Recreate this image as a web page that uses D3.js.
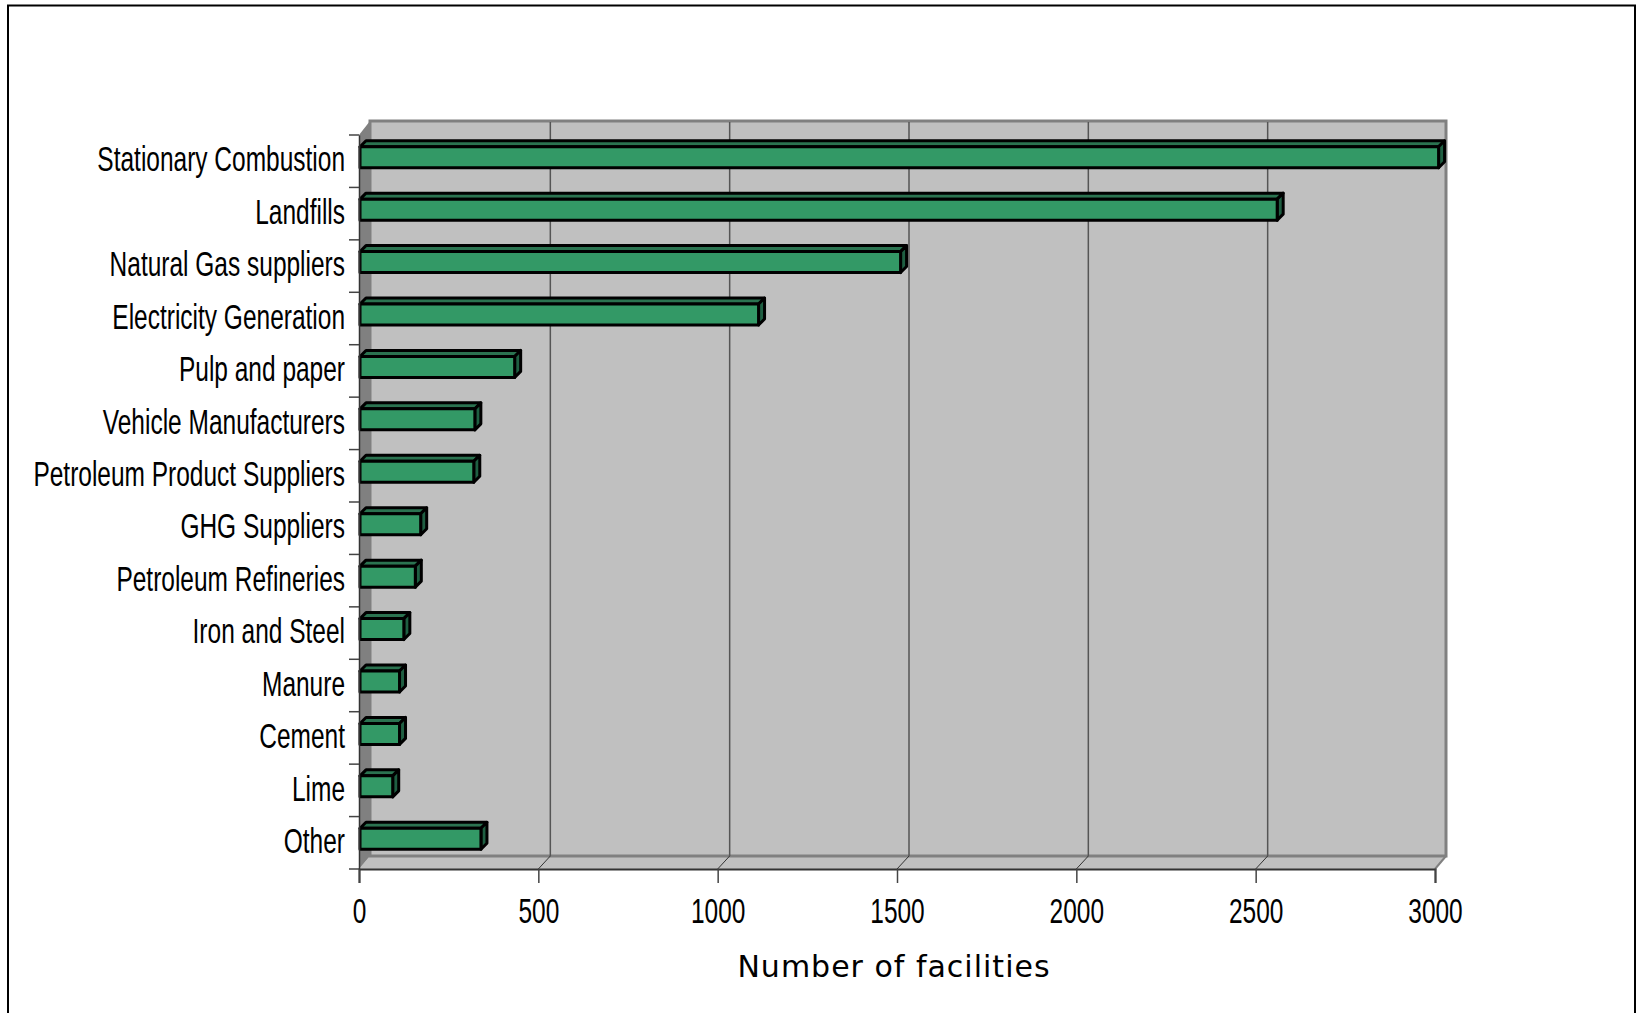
<!DOCTYPE html>
<html>
<head>
<meta charset="utf-8">
<script src="https://cdn.jsdelivr.net/npm/d3@7"></script>
<style>
  html, body { margin: 0; padding: 0; background: #fff; }
  svg { display: block; }
</style>
</head>
<body>
<svg id="chart" width="1636" height="1013"></svg>
<script>
const categories = ["Stationary Combustion", "Landfills", "Natural Gas suppliers", "Electricity Generation",
  "Pulp and paper", "Vehicle Manufacturers", "Petroleum Product Suppliers", "GHG Suppliers",
  "Petroleum Refineries", "Iron and Steel", "Manure", "Cement", "Lime", "Other"];
const facilities = [3010, 2560, 1510, 1114, 434, 323, 320, 172, 157, 125, 113, 113, 94, 340];
const xTicks = [0, 500, 1000, 1500, 2000, 2500, 3000];

const svg = d3.select("#chart");
const plotLeft = 359, plotRight = 1435, plotTop = 135, plotBottom = 869;
const wallDx = 11, wallDy = 13;   // depth of the fake 3d box
const gridDx = 12;
const barDx = 6, barDy = 6, barShift = -4;
const narrow = 0.7;               // no narrow font here, so squeeze the text

const x = d3.scaleLinear().domain([0, 3000]).range([plotLeft, plotRight]);
const y = d3.scaleBand().domain(categories).range([plotTop, plotBottom]).paddingInner(0.6).paddingOuter(0.3);
const rowStep = y.step();

// outer frame, the bottom is cropped in the original
svg.append("path")
  .attr("d", "M8,1013V5.5H1635V1013")
  .attr("fill", "none").attr("stroke", "#000").attr("stroke-width", 2);

// floor, back wall and side wall
const poly = pts => "M" + pts.map(p => p.join(",")).join("L") + "Z";
svg.append("path")
  .attr("d", poly([[plotLeft, plotBottom], [plotLeft + wallDx, plotBottom - wallDy], [plotRight + wallDx, plotBottom - wallDy], [plotRight, plotBottom]]))
  .attr("fill", "#c0c0c0");
svg.append("path")
  .attr("d", poly([[plotLeft + wallDx, plotTop - wallDy - 1], [plotRight + wallDx, plotTop - wallDy - 1], [plotRight + wallDx, plotBottom - wallDy], [plotLeft + wallDx, plotBottom - wallDy]]))
  .attr("fill", "#c0c0c0").attr("stroke", "#808080").attr("stroke-width", 3);
svg.append("path")
  .attr("d", poly([[plotLeft, plotTop], [plotLeft + wallDx, plotTop - wallDy - 1], [plotLeft + wallDx, plotBottom - wallDy], [plotLeft, plotBottom]]))
  .attr("fill", "#808080");
svg.append("line")
  .attr("x1", plotRight + wallDx).attr("y1", plotBottom - wallDy)
  .attr("x2", plotRight).attr("y2", plotBottom)
  .attr("stroke", "#808080").attr("stroke-width", 2);

// gridlines on the wall and their continuation over the floor
svg.append("g").selectAll("line").data(xTicks.slice(1, -1)).join("line")
  .attr("x1", d => x(d) + gridDx).attr("x2", d => x(d) + gridDx)
  .attr("y1", plotTop - wallDy).attr("y2", plotBottom - wallDy)
  .attr("stroke", "#555").attr("stroke-width", 1.5);
svg.append("g").selectAll("line").data(xTicks.slice(1, -1)).join("line")
  .attr("x1", d => x(d)).attr("x2", d => x(d) + gridDx)
  .attr("y1", plotBottom).attr("y2", plotBottom - wallDy)
  .attr("stroke", "#333").attr("stroke-width", 1);

// bars: top, side, then front face
const bars = svg.append("g").selectAll("g").data(categories).join("g")
  .attr("stroke", "#000").attr("stroke-width", 3).attr("stroke-linejoin", "round");
const barTop = c => y(c) + barShift;
const barEnd = (c, i) => x(facilities[i]);

bars.append("path").attr("fill", "#2b7350")
  .attr("d", (c, i) => poly([[x(0) + 1, barTop(c)], [x(0) + 1 + barDx, barTop(c) - barDy], [barEnd(c, i) + barDx, barTop(c) - barDy], [barEnd(c, i), barTop(c)]]));
bars.append("path").attr("fill", "#1f5f42")
  .attr("d", (c, i) => poly([[barEnd(c, i), barTop(c)], [barEnd(c, i) + barDx, barTop(c) - barDy], [barEnd(c, i) + barDx, barTop(c) + y.bandwidth() - barDy], [barEnd(c, i), barTop(c) + y.bandwidth()]]));
bars.append("rect").attr("fill", "#339966")
  .attr("x", x(0) + 1)
  .attr("y", barTop)
  .attr("width", (c, i) => barEnd(c, i) - x(0) - 1)
  .attr("height", y.bandwidth());

// x axis
const xAxis = svg.append("g")
  .attr("transform", `translate(0,${plotBottom})`)
  .call(d3.axisBottom(x).tickValues(xTicks).tickSize(14).tickPadding(15).tickFormat(d3.format("d")));
xAxis.select(".domain").attr("stroke", "#333").attr("stroke-width", 2);
xAxis.selectAll(".tick line").attr("stroke", "#444").attr("stroke-width", 1.5);
xAxis.selectAll("text")
  .attr("font-family", "'Liberation Sans', Arial, sans-serif")
  .attr("font-size", 35).attr("fill", "#000")
  .attr("transform", `scale(${narrow},1)`);

// y axis: labels from the band scale, ticks sit between the rows
const yAxis = svg.append("g")
  .attr("transform", `translate(${plotLeft},0)`)
  .call(d3.axisLeft(y).tickSize(0).tickPadding(14));
yAxis.select(".domain").attr("stroke", "#333").attr("stroke-width", 1.5);
yAxis.selectAll("text")
  .attr("font-family", "'Liberation Sans', Arial, sans-serif")
  .attr("font-size", 35).attr("fill", "#000").attr("dy", "0.29em")
  .attr("x", -14 / narrow)
  .attr("transform", `scale(${narrow},1)`);
svg.append("g").selectAll("line").data(d3.range(categories.length + 1)).join("line")
  .attr("x1", plotLeft - 10).attr("x2", plotLeft)
  .attr("y1", i => plotTop + i * rowStep).attr("y2", i => plotTop + i * rowStep)
  .attr("stroke", "#444").attr("stroke-width", 1.5);

// axis title
svg.append("text")
  .attr("x", 894).attr("y", 977)
  .attr("text-anchor", "middle")
  .attr("font-family", "'DejaVu Sans', Verdana, sans-serif")
  .attr("font-size", 30).attr("letter-spacing", 1).attr("fill", "#000")
  .text("Number of facilities");
</script>
</body>
</html>
